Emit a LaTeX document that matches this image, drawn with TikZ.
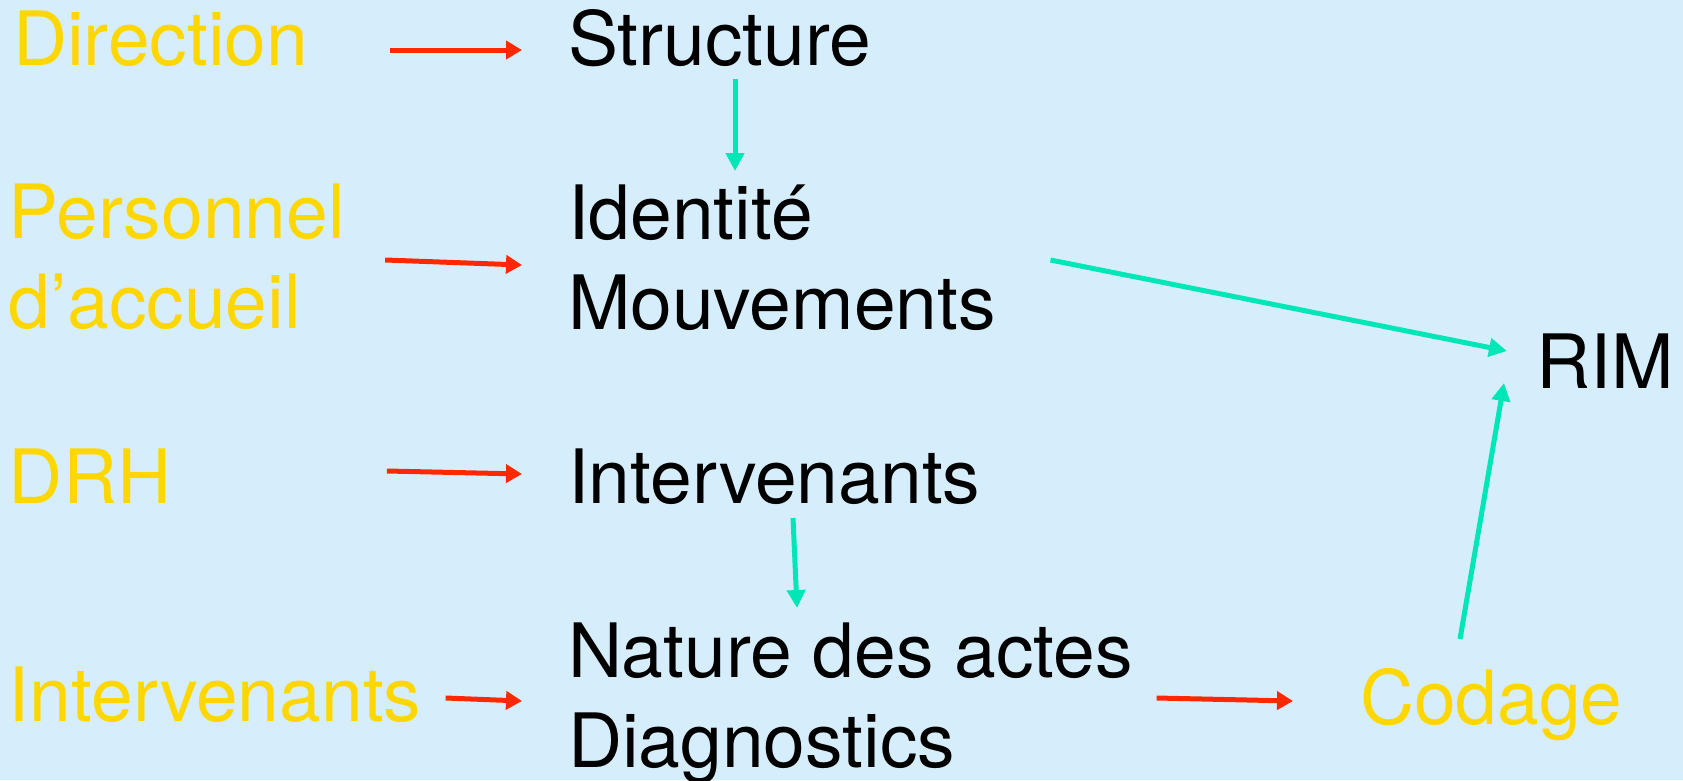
\documentclass[tikz,border=0pt]{standalone}
\usepackage{fontspec}
\setmainfont{TeX Gyre Heros}
\usetikzlibrary{arrows.meta}

\definecolor{paper}{RGB}{214,238,252}
\definecolor{gold}{RGB}{255,215,0}
\definecolor{flow}{RGB}{255,40,0}
\definecolor{feed}{RGB}{0,230,182}

\tikzset{
  lbl/.style={anchor=base west, inner sep=0pt, outer sep=0pt,
              font=\fontsize{75pt}{90.5pt}\selectfont},
  source/.style={lbl, text=gold},
  target/.style={lbl, text=black},
  supply/.style={draw=flow, line width=5pt, -{Triangle[length=16pt,width=18pt]}},
  link/.style={draw=feed, line width=5pt, -{Triangle[length=18pt,width=18pt]}},
}
\newcommand{\twolines}[2]{\begin{tabular}[t]{@{}l@{}}#1\\#2\end{tabular}}

\begin{document}
\begin{tikzpicture}[x=1pt, y=-1pt]
  % canvas
  \fill[paper] (0,0) rectangle (1683,780);
  \useasboundingbox (0,0) rectangle (1683,780);

  % who supplies the data
  \node[source] (dir)  at (13,65)  {Direction};
  \node[source] (pers) at (9,238)  {\twolines{Personnel}{d’accueil}};
  \node[source] (drh)  at (9,503)  {DRH};
  \node[source] (intY) at (9,721)  {Intervenants};
  \node[source] (cod)  at (1360,724) {Codage};

  % what is recorded
  \node[target] (str)    at (568,65)  {Structure};
  \node[target] (ident)  at (568,239) {\twolines{Identité}{Mouvements}};
  \node[target] (interv) at (568,503) {Intervenants};
  \node[target] (nat)    at (568,677) {\twolines{Nature des actes}{Diagnostics}};
  \node[target] (rim)    at (1536,388) {RIM};

  % sources feeding the records
  \draw[supply] ([shift={(82.2,-15)}]dir.base east)  -- ([shift={(-46,-15)}]str.base west);
  \draw[supply] ([shift={(40.4,22)}]pers.base east)  -- ([shift={(-46,26)}]ident.base west);
  \draw[supply] ([shift={(215.5,-32)}]drh.base east) -- ([shift={(-46,-29)}]interv.base west);
  \draw[supply] ([shift={(24.3,-23)}]intY.base east) -- ([shift={(-46,24)}]nat.base west);
  \draw[supply] ([shift={(24,21)}]nat.base east)     -- ([shift={(-67,-23)}]cod.base west);

  % links between records and towards the RIM
  \draw[link] ([shift={(167,14)}]str.base west)    -- ([shift={(167,-68)}]ident.base west);
  \draw[link] ([shift={(225,15)}]interv.base west) -- ([shift={(229,-69)}]nat.base west);
  \draw[link] ([shift={(54.7,21)}]ident.base east) -- ([shift={(-29,-37)}]rim.base west);
  \draw[link] ([shift={(100,-85)}]cod.base west)   -- ([shift={(-32,-5)}]rim.base west);
\end{tikzpicture}
\end{document}
